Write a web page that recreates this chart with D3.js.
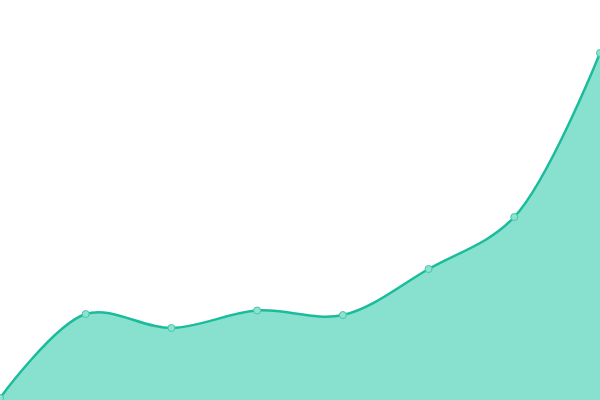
<!DOCTYPE html>
<html>
<head>
<meta charset="utf-8">
<script src="https://d3js.org/d3.v7.min.js"></script>
<style>
  body { margin: 0; background: #fff; }
</style>
</head>
<body>
<svg id="chart" width="600" height="400"></svg>
<script>
  // data
  var categories = ['1', '2', '3', '4', '5', '6', '7', '8'];
  var values = [2, 86, 72, 89.5, 85, 131, 183, 347];

  var width = 600, height = 400;
  var svg = d3.select('#chart');

  var x = d3.scalePoint()
    .domain(categories)
    .range([0, width]);

  var y = d3.scaleLinear()
    .domain([0, 400])
    .range([height, 0]);

  var curve = d3.curveCatmullRom.alpha(0.5);

  var area = d3.area()
    .x(function(d, i) { return x(categories[i]); })
    .y0(height)
    .y1(function(d) { return y(d); })
    .curve(curve);

  var line = d3.line()
    .x(function(d, i) { return x(categories[i]); })
    .y(function(d) { return y(d); })
    .curve(curve);

  svg.append('path')
    .datum(values)
    .attr('d', area)
    .attr('fill', '#88e0cf');

  svg.append('path')
    .datum(values)
    .attr('d', line)
    .attr('fill', 'none')
    .attr('stroke', '#1bbc9b')
    .attr('stroke-width', 2.5);

  svg.selectAll('.dot')
    .data(values)
    .enter()
    .append('circle')
      .attr('class', 'dot')
      .attr('cx', function(d, i) { return x(categories[i]); })
      .attr('cy', function(d) { return y(d); })
      .attr('r', 3.5)
      .attr('fill', '#8ee2d1')
      .attr('stroke', '#45c6a9')
      .attr('stroke-width', 1);
</script>
</body>
</html>
